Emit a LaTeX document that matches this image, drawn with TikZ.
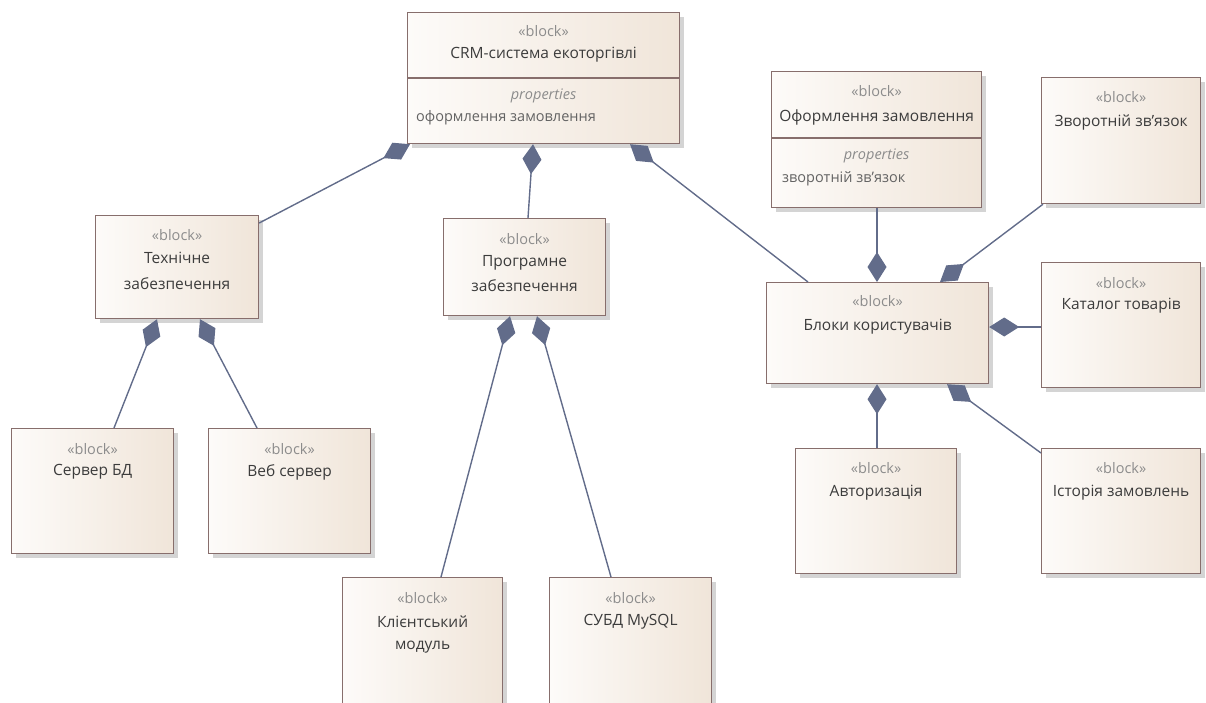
\documentclass[tikz,border=0pt]{standalone}
\usepackage{fontspec}
\setmainfont{Open Sans}
\usetikzlibrary{arrows.meta,shadows,calc}
\definecolor{lineC}{RGB}{98,108,138}
\definecolor{borderC}{RGB}{135,110,108}
\definecolor{fillL}{RGB}{253,251,249}
\definecolor{fillR}{RGB}{240,229,217}
\definecolor{nameC}{RGB}{60,60,60}
\definecolor{stereoC}{RGB}{140,140,140}
\tikzset{
  blockbox/.style={draw=borderC, line width=1.2pt, rectangle, anchor=north west, inner sep=0pt,
    left color=fillL, right color=fillR,
    drop shadow={shadow xshift=4pt, shadow yshift=-4pt, fill=black!17, opacity=1}},
  stereo/.style={text=stereoC, font=\fontsize{14.5}{16}\selectfont, inner sep=0pt},
  bname/.style={text=nameC, font=\fontsize{15.5}{17}\selectfont, inner sep=0pt},
  props/.style={text=stereoC, font=\fontsize{14.5}{16}\selectfont\itshape, inner sep=0pt},
  attr/.style={text=nameC!80, font=\fontsize{14.5}{16}\selectfont, inner sep=0pt, anchor=west},
  divider/.style={draw=borderC, line width=1.2pt},
  comp/.style={draw=lineC, line width=1.4pt, {Diamond[length=30pt,width=19pt,fill=lineC]}-}
}
\begin{document}
\begin{tikzpicture}[x=1pt,y=-1pt]
\useasboundingbox (0,0) rectangle (1206,702);
\clip (0,0) rectangle (1206,702);

% boxes
\node[blockbox, minimum width=272pt, minimum height=131pt] (crm) at (407,12) {};
\node[blockbox, minimum width=163pt, minimum height=103pt] (tech) at (95,215) {};
\node[blockbox, minimum width=162pt, minimum height=97pt] (prog) at (443,218) {};
\node[blockbox, minimum width=210pt, minimum height=136pt] (ofr) at (771,71) {};
\node[blockbox, minimum width=159pt, minimum height=126pt] (zvor) at (1041,77) {};
\node[blockbox, minimum width=222pt, minimum height=101pt] (blok) at (766,282) {};
\node[blockbox, minimum width=159pt, minimum height=125pt] (kat) at (1041,262) {};
\node[blockbox, minimum width=161pt, minimum height=125pt] (avt) at (795,448) {};
\node[blockbox, minimum width=159pt, minimum height=125pt] (ist) at (1041,448) {};
\node[blockbox, minimum width=162pt, minimum height=125pt] (srv) at (11,428) {};
\node[blockbox, minimum width=162pt, minimum height=125pt] (web) at (208,428) {};
\node[blockbox, minimum width=160pt, minimum height=135pt] (kli) at (342,577) {};
\node[blockbox, minimum width=162pt, minimum height=135pt] (subd) at (549,577) {};

% dividers
\draw[divider] (crm.west |- 0,78) -- (crm.east |- 0,78);
\draw[divider] (ofr.west |- 0,138) -- (ofr.east |- 0,138);

% texts
\node[stereo] at ($(crm.north)+(0,19)$) {«block»};
\node[bname] at ($(crm.north)+(0,43)$) {CRM-система екоторгівлі};
\node[props] at ($(crm.north)+(0,84)$) {properties};
\node[attr] at (416,118) {оформлення замовлення};

\node[stereo] at ($(ofr.north)+(0,20)$) {«block»};
\node[bname] at ($(ofr.north)+(0,46)$) {Оформлення замовлення};
\node[props] at ($(ofr.north)+(0,85)$) {properties};
\node[attr] at (782,179) {зворотній зв'язок};

\node[stereo] at ($(tech.north)+(0,20)$) {«block»};
\node[bname] at ($(tech.north)+(0,43)$) {Технічне};
\node[bname] at ($(tech.north)+(0,69)$) {забезпечення};

\node[stereo] at ($(prog.north)+(0,21)$) {«block»};
\node[bname] at ($(prog.north)+(0,45)$) {Програмне};
\node[bname] at ($(prog.north)+(0,68)$) {забезпечення};

\node[stereo] at ($(zvor.north)+(0,20)$) {«block»};
\node[bname] at ($(zvor.north)+(0,45)$) {Зворотній зв'язок};

\node[stereo] at ($(blok.north)+(0,19)$) {«block»};
\node[bname] at ($(blok.north)+(0,45)$) {Блоки користувачів};

\node[stereo] at ($(kat.north)+(0,21)$) {«block»};
\node[bname] at ($(kat.north)+(0,44)$) {Каталог товарів};

\node[stereo] at ($(avt.north)+(0,20)$) {«block»};
\node[bname] at ($(avt.north)+(0,45)$) {Авторизація};

\node[stereo] at ($(ist.north)+(0,20)$) {«block»};
\node[bname] at ($(ist.north)+(0,45)$) {Історія замовлень};

\node[stereo] at ($(srv.north)+(0,21)$) {«block»};
\node[bname] at ($(srv.north)+(0,44)$) {Сервер БД};

\node[stereo] at ($(web.north)+(0,21)$) {«block»};
\node[bname] at ($(web.north)+(0,44)$) {Веб сервер};

\node[stereo] at ($(kli.north)+(0,21)$) {«block»};
\node[bname] at ($(kli.north)+(0,45)$) {Клієнтський};
\node[bname] at ($(kli.north)+(0,70)$) {модуль};

\node[stereo] at ($(subd.north)+(0,21)$) {«block»};
\node[bname] at ($(subd.north)+(0,45)$) {СУБД MySQL};

% connectors (diamond at the whole)
\draw[comp] (410,0 |- crm.south) -- (tech.east |- 0,223);
\draw[comp] (533,0 |- crm.south) -- (528,0 |- prog.north);
\draw[comp] (630,0 |- crm.south) -- (808,0 |- blok.north);
\draw[comp] (877,0 |- blok.north) -- (877,0 |- ofr.south);
\draw[comp] (940,0 |- blok.north) -- (1043,0 |- zvor.south);
\draw[comp] (blok.east |- 0,327) -- (kat.west |- 0,327);
\draw[comp] (877,0 |- blok.south) -- (877,0 |- avt.north);
\draw[comp] (947,0 |- blok.south) -- (ist.west |- 0,453);
\draw[comp] (157,0 |- tech.south) -- (114,0 |- srv.north);
\draw[comp] (200,0 |- tech.south) -- (257,0 |- web.north);
\draw[comp] (510,0 |- prog.south) -- (441,0 |- kli.north);
\draw[comp] (537,0 |- prog.south) -- (611,0 |- subd.north);
\end{tikzpicture}
\end{document}
